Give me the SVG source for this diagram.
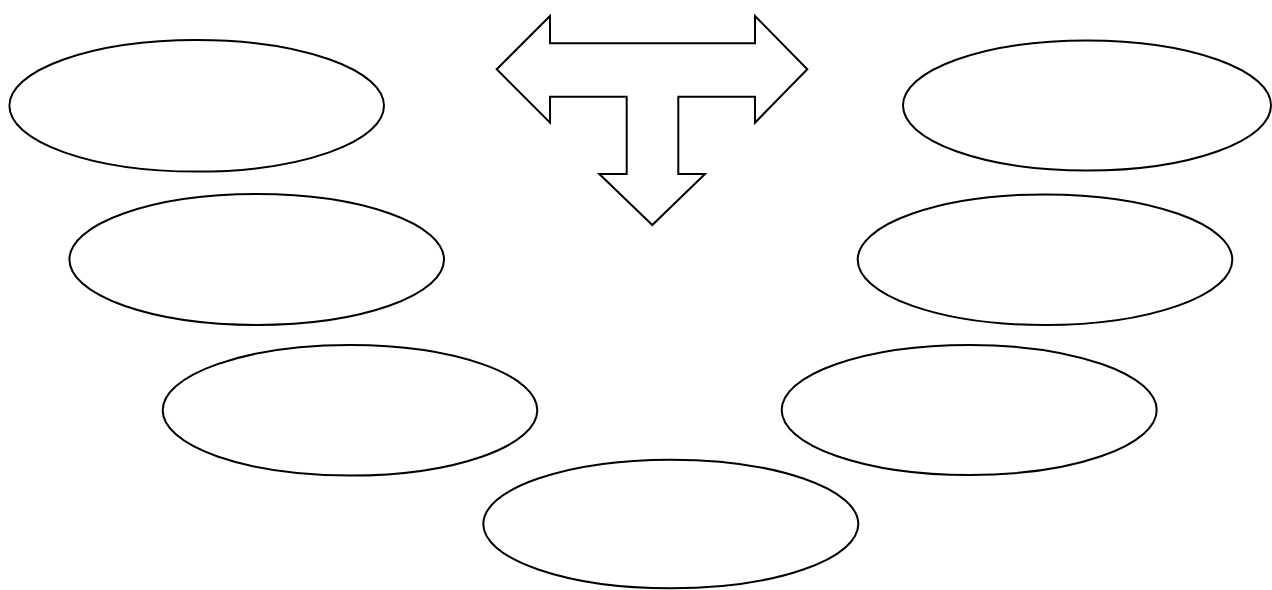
<svg xmlns="http://www.w3.org/2000/svg" width="1272" height="590" viewBox="0 0 1272 590">
  <style>
    .node { fill: #ffffff; stroke: #000000; stroke-width: 2; }
    .arrow { fill: #ffffff; stroke: #000000; stroke-width: 2; stroke-linejoin: miter; }
  </style>
  <rect x="0" y="0" width="1272" height="590" fill="#ffffff"/>
  <g id="connectors">
    <path class="arrow" d="M 496.7 69.3 L 550 16 L 550 43.3 L 755 43.3 L 755 16 L 807.3 69.3 L 755 122.7 L 755 96.7 L 678.3 96.7 L 678.3 174 L 705 174 L 652.3 225 L 599.3 174 L 626.7 174 L 626.7 96.7 L 550 96.7 L 550 122.7 Z"/>
  </g>
  <g id="node-left-1"><ellipse class="node" cx="196.7" cy="105.8" rx="187.3" ry="65.8"/></g>
  <g id="node-left-2"><ellipse class="node" cx="256.7" cy="259.5" rx="187.3" ry="65.5"/></g>
  <g id="node-left-3"><ellipse class="node" cx="350" cy="410.3" rx="187.3" ry="65.3"/></g>
  <g id="node-bottom"><ellipse class="node" cx="670.8" cy="524" rx="187.5" ry="64.3"/></g>
  <g id="node-right-3"><ellipse class="node" cx="969.2" cy="410" rx="187.5" ry="65"/></g>
  <g id="node-right-2"><ellipse class="node" cx="1045" cy="259.7" rx="187.3" ry="65.3"/></g>
  <g id="node-right-1"><ellipse class="node" cx="1087" cy="105.5" rx="184" ry="65"/></g>
</svg>
